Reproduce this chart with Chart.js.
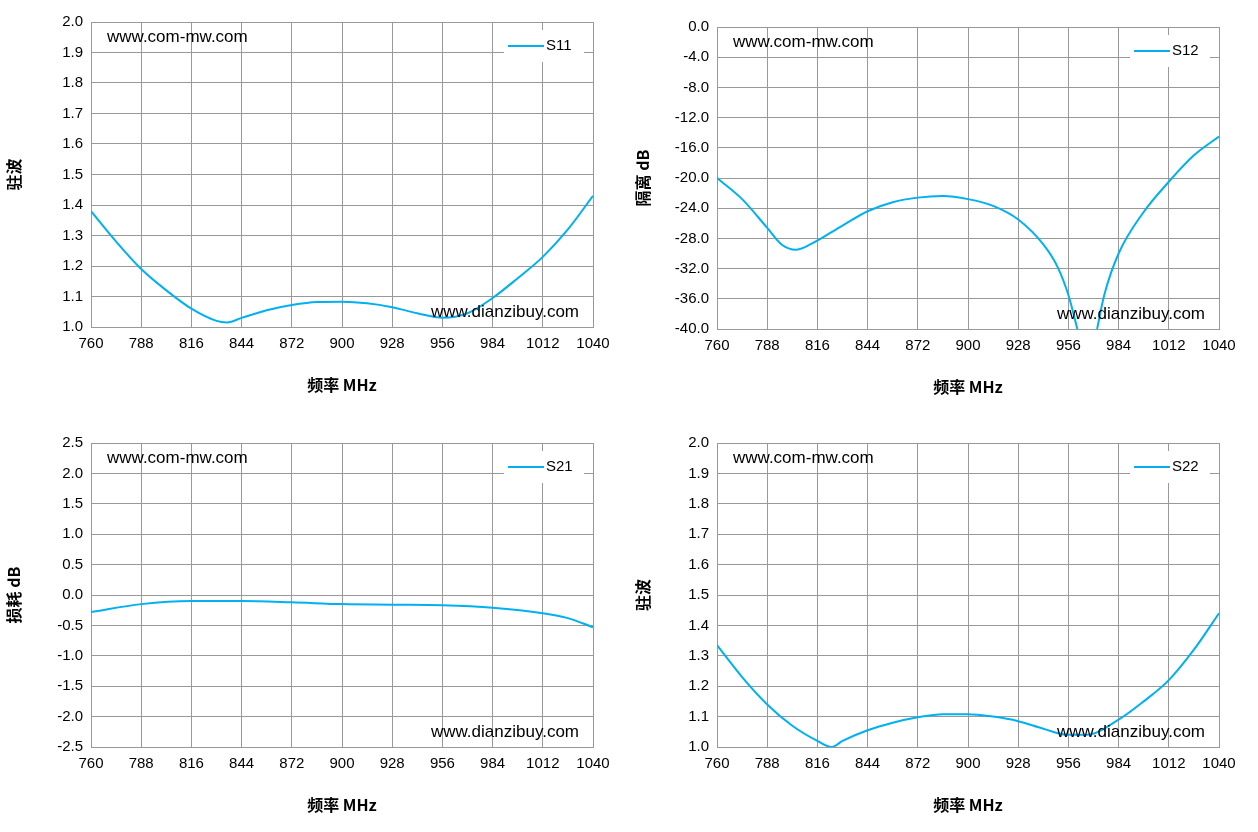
<!DOCTYPE html>
<html><head><meta charset="utf-8">
<script src="https://cdn.jsdelivr.net/npm/chart.js@4"></script>
<style>
body{margin:0;background:#fff;width:1258px;height:832px;position:relative;overflow:hidden}
.box{position:absolute;width:629px;height:416px}
</style></head><body>
<div class="box" style="left:0;top:0"><canvas id="c1"></canvas></div>
<div class="box" style="left:629px;top:0"><canvas id="c2"></canvas></div>
<div class="box" style="left:0;top:420px"><canvas id="c3"></canvas></div>
<div class="box" style="left:629px;top:420px"><canvas id="c4"></canvas></div>
<script>
const freqTicks = [760,788,816,844,872,900,928,956,984,1012,1040];

const s11X = [760,774,788,802,816,830,836,844,858,872,886,900,914,928,942,956,970,984,998,1012,1026,1040];
const s11Y = [1.38,1.28,1.19,1.12,1.06,1.02,1.015,1.03,1.055,1.072,1.082,1.083,1.078,1.065,1.045,1.03,1.045,1.095,1.16,1.23,1.32,1.43];

const s12X = [760,774,788,796,804,812,830,844,858,872,886,900,914,928,942,950,956,961,966,972,976,984,998,1012,1026,1040];
const s12Y = [-20,-22.8,-26.6,-28.8,-29.5,-28.8,-26.3,-24.4,-23.2,-22.6,-22.4,-22.8,-23.7,-25.5,-28.8,-31.8,-35.5,-40,null,-40,-35.5,-30,-24.5,-20.5,-17,-14.5];

const s21X = [760,788,816,844,872,900,928,956,984,1012,1026,1040];
const s21Y = [-0.28,-0.15,-0.1,-0.1,-0.12,-0.15,-0.16,-0.17,-0.21,-0.3,-0.38,-0.53];

const s22X = [760,774,788,802,816,824,830,844,858,872,886,900,914,928,942,956,966,984,998,1012,1026,1040];
const s22Y = [1.335,1.23,1.14,1.07,1.02,1.0,1.02,1.055,1.08,1.098,1.108,1.108,1.1,1.085,1.06,1.04,1.04,1.09,1.15,1.22,1.32,1.44];

const FONT = "'Liberation Sans', Arial, sans-serif";

const decor = {
  id: 'decor',
  afterDraw(chart, args, o) {
    const ctx = chart.ctx, a = chart.chartArea;
    ctx.save();
    ctx.fillStyle = '#000';
    ctx.font = '17px ' + FONT;
    ctx.textBaseline = 'middle';
    ctx.fillText('www.com-mw.com', a.left + 16, a.top + 15);
    ctx.textAlign = 'right';
    ctx.fillText('www.dianzibuy.com', a.right - 14, a.bottom - 15);
    // legend
    const w = 80, h = 32, x = a.right - w - 9, y = a.top + 8;
    ctx.fillStyle = '#fff';
    ctx.fillRect(x, y, w, h);
    ctx.strokeStyle = '#00b0f0'; ctx.lineWidth = 2;
    ctx.beginPath(); ctx.moveTo(x + 4, y + h / 2); ctx.lineTo(x + 40, y + h / 2); ctx.stroke();
    ctx.fillStyle = '#000'; ctx.textAlign = 'left'; ctx.font = '15px ' + FONT;
    ctx.fillText(o.label, x + 42, y + h / 2);
    ctx.restore();
  }
};

function make(id, xs, ys, label, min, max, step, dec, ytitle, left, right, top, bottom) {
  new Chart(document.getElementById(id), {
    type: 'line',
    data: { datasets: [{ label, data: xs.map((x, i) => ({ x, y: ys[i] })), borderColor: '#00b0f0', borderWidth: 2, pointRadius: 0, cubicInterpolationMode: 'monotone', spanGaps: false }] },
    options: {
      animation: false, responsive: false, devicePixelRatio: 1,
      layout: { padding: { left: 0, right, top, bottom: bottom - 72 } },
      plugins: { legend: { display: false }, tooltip: { enabled: false }, decor: { label } },
      scales: {
        x: { type: 'linear', min: 760, max: 1040,
          afterBuildTicks: s => { s.ticks = freqTicks.map(v => ({ value: v })); },
          afterFit: s => { s.height = 72; },
          ticks: { color: '#000', font: { family: FONT, size: 15 }, padding: 8, callback: v => String(v) },
          grid: { color: '#999', drawTicks: false }, border: { color: '#999' },
          title: { display: true, text: '频率 MHz', color: '#000', font: { family: "'Noto Sans CJK SC', serif", size: 16, weight: 'bold' }, padding: { top: 12 } } },
        y: { min, max,
          afterFit: s => { s.width = left; },
          ticks: { stepSize: step, color: '#000', font: { family: FONT, size: 15 }, padding: 8, callback: v => v.toFixed(dec) },
          grid: { color: '#999', drawTicks: false }, border: { color: '#999' },
          title: { display: true, text: ytitle, color: '#000', font: { family: "'Noto Sans CJK SC', serif", size: 16, weight: 'bold' }, padding: { bottom: 4 } } }
      }
    },
    plugins: [decor]
  });
}
['c1','c2','c3','c4'].forEach(id => { const c = document.getElementById(id); c.width = 629; c.height = 416; });
make('c1', s11X, s11Y, 'S11', 1.0, 2.0, 0.1, 1, '驻波', 91, 36, 22, 89);
make('c2', s12X, s12Y, 'S12', -40, 0, 4, 1, '隔离 dB', 88, 39, 27, 87);
make('c3', s21X, s21Y, 'S21', -2.5, 2.5, 0.5, 1, '损耗 dB', 91, 36, 23, 89);
make('c4', s22X, s22Y, 'S22', 1.0, 2.0, 0.1, 1, '驻波', 88, 39, 23, 89);
</script>
</body></html>
